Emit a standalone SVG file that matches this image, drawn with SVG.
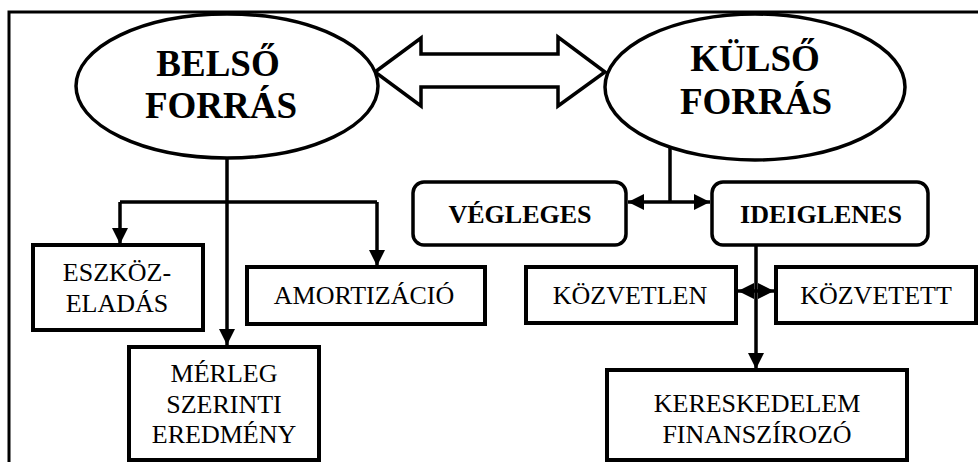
<svg xmlns="http://www.w3.org/2000/svg" width="978" height="462" viewBox="0 0 978 462">
<style>
.frame{fill:none;stroke:#000;stroke-width:3}
.ell{fill:#fff;stroke:#000;stroke-width:3.5}
.box{fill:#fff;stroke:#000;stroke-width:4}
.rbox{fill:#fff;stroke:#000;stroke-width:3.5}
.con{fill:none;stroke:#000;stroke-width:3.5}
.big{font-family:"Liberation Serif","Times New Roman",serif;font-weight:bold;font-size:37px;text-anchor:middle;fill:#000}
.bold{font-family:"Liberation Serif","Times New Roman",serif;font-weight:bold;font-size:26px;text-anchor:middle;fill:#000}
.txt{font-family:"Liberation Serif","Times New Roman",serif;font-size:26px;text-anchor:middle;fill:#000}
</style>
<defs>
<marker id="ah" markerUnits="userSpaceOnUse" markerWidth="18" markerHeight="18" refX="16" refY="8" orient="auto-start-reverse" viewBox="0 0 18 16">
<path d="M0,0 L16,8 L0,16 Z" fill="#000"/>
</marker>
</defs>
<rect width="978" height="462" fill="#fff"/>
<path class="frame" d="M9,462 V12 H978"/>

<g id="connectors">
<path class="con" d="M227,158 V345" marker-end="url(#ah)"/>
<path class="con" d="M120,202 H377"/>
<path class="con" d="M120,202 V244" marker-end="url(#ah)"/>
<path class="con" d="M377,202 V266" marker-end="url(#ah)"/>
<path class="con" d="M670,148 V203"/>
<path class="con" d="M628,202 H710" marker-start="url(#ah)" marker-end="url(#ah)"/>
<path class="con" d="M756,245 V369" marker-end="url(#ah)"/>
<path class="con" d="M738,291 H774" marker-start="url(#ah)" marker-end="url(#ah)"/>
<polygon id="double-arrow" points="375,72 421,38 421,54 558,54 558,37 605,72 558,106 558,87 421,87 421,106" fill="#fff" stroke="#000" stroke-width="3.5" stroke-linejoin="miter"/>
</g>

<g id="belso">
<ellipse class="ell" cx="227" cy="86" rx="151" ry="72"/>
<text class="big" x="218" y="76">BELSŐ</text>
<text class="big" x="221" y="118">FORRÁS</text>
</g>

<g id="kulso">
<ellipse class="ell" cx="755" cy="87" rx="150" ry="73"/>
<text class="big" x="755" y="71">KÜLSŐ</text>
<text class="big" x="756" y="114">FORRÁS</text>
</g>

<g id="vegleges">
<rect class="rbox" x="413" y="182" width="213" height="63" rx="11"/>
<text class="bold" x="520" y="223">VÉGLEGES</text>
</g>

<g id="ideiglenes">
<rect class="rbox" x="712" y="182" width="216" height="63" rx="11"/>
<text class="bold" x="821" y="223">IDEIGLENES</text>
</g>

<g id="eszkoz">
<rect class="box" x="33" y="245" width="170" height="85"/>
<text class="txt" x="117" y="281">ESZKÖZ-</text>
<text class="txt" x="117" y="312">ELADÁS</text>
</g>

<g id="amortizacio">
<rect class="box" x="247" y="267" width="238" height="57"/>
<text class="txt" x="364" y="304">AMORTIZÁCIÓ</text>
</g>

<g id="merleg">
<rect class="box" x="129" y="347" width="190" height="113"/>
<text class="txt" x="224" y="382">MÉRLEG</text>
<text class="txt" x="224" y="413">SZERINTI</text>
<text class="txt" x="224" y="443">EREDMÉNY</text>
</g>

<g id="kozvetlen">
<rect class="box" x="526" y="267" width="210" height="56"/>
<text class="txt" x="630" y="304">KÖZVETLEN</text>
</g>

<g id="kozvetett">
<rect class="box" x="776" y="267" width="200" height="56"/>
<text class="txt" x="876" y="304">KÖZVETETT</text>
</g>

<g id="kereskedelem">
<rect class="box" x="607" y="370" width="300" height="90"/>
<text class="txt" x="757" y="412">KERESKEDELEM</text>
<text class="txt" x="757" y="443">FINANSZÍROZÓ</text>
</g>
</svg>
